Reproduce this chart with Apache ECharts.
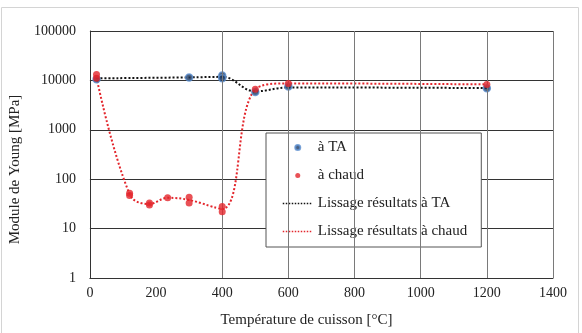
<!DOCTYPE html>
<html>
<head>
<meta charset="utf-8">
<script src="https://cdn.jsdelivr.net/npm/echarts@6/dist/echarts.min.js"></script>
<style>
html, body { margin: 0; padding: 0; background: #fff; }
#chart { width: 582px; height: 333px; }
</style>
</head>
<body>
<div id="chart"></div>
<script>
// mesures (points)
var xTA = [20, 300, 400, 400, 500, 600, 1200];
var yTA = [10500, 11500, 12600, 11000, 5800, 7500, 6900];

var xChaud = [20, 20, 120, 120, 180, 180, 235, 300, 300, 400, 400, 500, 600, 1200];
var yChaud = [13200, 11000, 52, 47, 33, 30, 42, 43, 33, 28, 22, 6600, 8700, 8300];

// courbes de lissage
var xLisTA = [20, 300, 400, 500, 600, 1200];
var yLisTA = [11000, 11500, 11800, 6000, 7200, 7000];

var xLisChaud = [20, 120, 180, 235, 300, 400, 500, 600, 1200];
var yLisChaud = [11500, 50, 31.5, 42, 38, 25, 6600, 8700, 8300];

var xTicks = [0, 1400, 200];
var yTicks = [1, 100000];
var vLines = [400, 600, 800, 1000, 1200, 1400];

function paires(xs, ys) {
	var out = [];
	for (var i = 0; i < xs.length; i++) {
		out.push([xs[i], ys[i]]);
	}
	return out;
}

var police = "'Liberation Serif', 'Times New Roman', serif";
var cache = { color: 'transparent', borderWidth: 0 };

var myChart = echarts.init(document.getElementById('chart'));
var option = {
	animation: false,
	graphic: [{
		type: 'rect',
		shape: { x: 1.5, y: 7.5, width: 577, height: 340 },
		style: { fill: 'none', stroke: '#d4d4d4', lineWidth: 1 },
		silent: true
	}],
	grid: {
		left: 87,
		right: 29,
		top: 31,
		bottom: 53
	},
	legend: {
		orient: 'vertical',
		left: 266,
		top: 133,
		width: 218,
		backgroundColor: '#fff',
		borderColor: '#555',
		borderWidth: 1,
		padding: [7, 14, 8, 16],
		itemGap: 13,
		itemWidth: 30,
		itemHeight: 5,
		textStyle: { fontFamily: police, fontSize: 15, color: '#222' },
		data: [
			{ name: 'à TA' },
			{ name: 'à chaud' },
			{ name: 'Lissage résultats à TA', itemStyle: cache, lineStyle: { color: '#111', width: 1.5, type: [1.5, 1.5] } },
			{ name: 'Lissage résultats à chaud', itemStyle: cache, lineStyle: { color: '#e3262c', width: 1.5, type: [1.5, 1.5] } }
		]
	},
	xAxis: {
		type: 'value',
		min: xTicks[0],
		max: xTicks[1],
		interval: xTicks[2],
		name: 'Température de cuisson [°C]',
		nameLocation: 'middle',
		nameGap: 35,
		nameTextStyle: { fontFamily: police, fontSize: 15, color: '#222', padding: [0, 30, 0, 0] },
		axisLine: { show: true, onZero: false, lineStyle: { color: '#333' } },
		axisTick: { show: false },
		axisLabel: {
			fontFamily: police, fontSize: 14, color: '#222', margin: 8,
			formatter: function (v) { return String(v); }
		},
		splitLine: { show: false }
	},
	yAxis: {
		type: 'log',
		logBase: 10,
		min: yTicks[0],
		max: yTicks[1],
		name: 'Module de Young [MPa]',
		nameLocation: 'middle',
		nameGap: 58,
		nameTextStyle: { fontFamily: police, fontSize: 15, color: '#222', padding: [0, 30, 0, 0] },
		axisLine: { show: true, lineStyle: { color: '#333' } },
		axisTick: { show: false },
		axisLabel: {
			fontFamily: police, fontSize: 14, color: '#222', margin: 14,
			formatter: function (v) { return String(Math.round(v)); }
		},
		splitLine: { show: true, lineStyle: { color: '#333', width: 1 } }
	},
	series: [
		{
			name: 'Lissage résultats à TA',
			type: 'line',
			smooth: 0.4,
			showSymbol: false,
			symbol: 'none',
			z: 3,
			itemStyle: { color: '#111' },
			lineStyle: { color: '#111', width: 2, type: [2, 2] },
			data: paires(xLisTA, yLisTA),
			markLine: {
				silent: true,
				symbol: 'none',
				label: { show: false },
				lineStyle: { color: '#7a7a7a', width: 1, type: 'solid' },
				data: vLines.map(function (v) { return { xAxis: v }; })
			}
		},
		{
			name: 'Lissage résultats à chaud',
			type: 'line',
			smooth: 0.4,
			showSymbol: false,
			symbol: 'none',
			z: 3,
			itemStyle: { color: '#e3262c' },
			lineStyle: { color: '#e3262c', width: 2, type: [2, 2] },
			data: paires(xLisChaud, yLisChaud)
		},
		{
			name: 'à TA',
			type: 'scatter',
			symbolSize: 7,
			z: 4,
			itemStyle: { color: '#1f3a60', borderColor: '#5b8fd0', borderWidth: 1.5 },
			data: paires(xTA, yTA)
		},
		{
			name: 'à chaud',
			type: 'scatter',
			symbolSize: 7,
			z: 5,
			itemStyle: { color: '#e3262c' },
			data: paires(xChaud, yChaud)
		}
	]
};
myChart.setOption(option);
</script>
</body>
</html>
